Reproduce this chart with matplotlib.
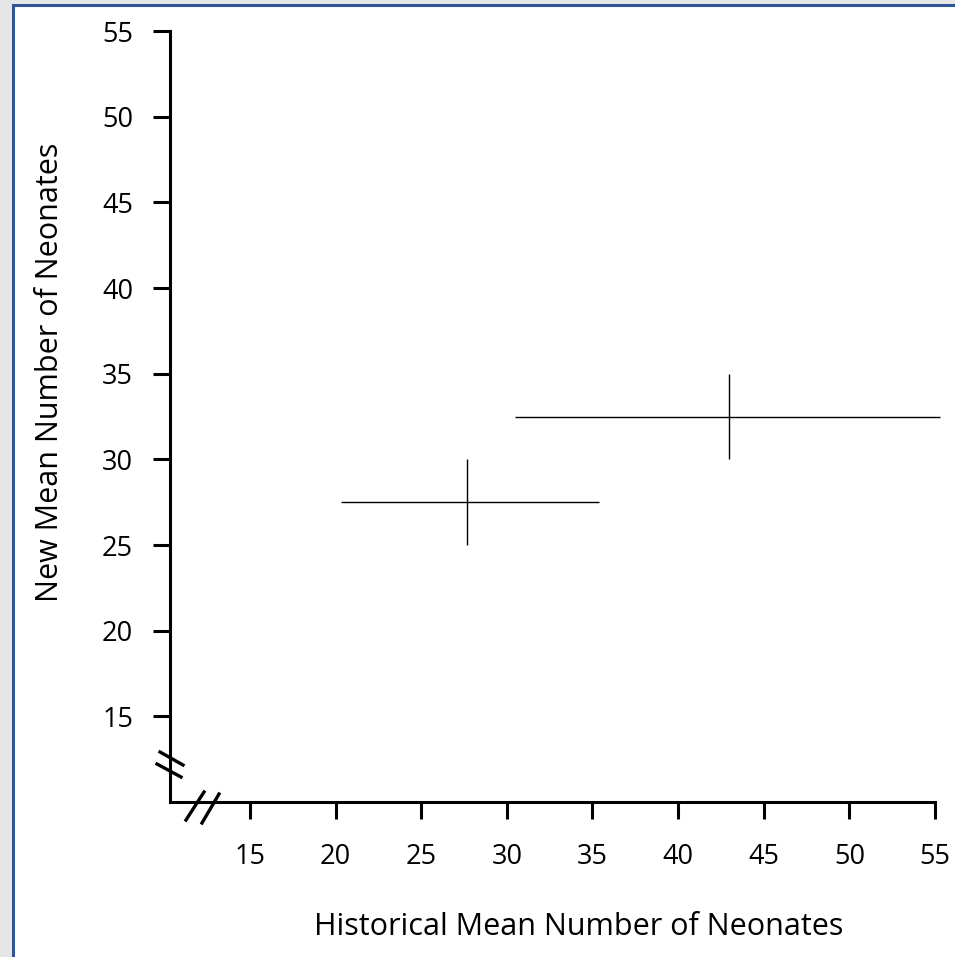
import matplotlib
matplotlib.use("Agg")
import matplotlib.pyplot as plt
from matplotlib.patches import Rectangle
from matplotlib.lines import Line2D

# data
hist_mean = [27.7, 43.0]
hist_lo = [20.3, 30.5]
hist_hi = [35.4, 55.3]
new_mean = [27.5, 32.5]
new_lo = [25.0, 30.0]
new_hi = [30.0, 35.0]

xticks = [15, 20, 25, 30, 35, 40, 45, 50, 55]
yticks = [15, 20, 25, 30, 35, 40, 45, 50, 55]

plt.rcParams['font.family'] = ['Open Sans', 'DejaVu Sans']

W, H = 955, 957
fig = plt.figure(figsize=(W / 100, H / 100), dpi=100)
fig.patch.set_facecolor('#e6e6e6')

# white panel with blue frame
fig.patches.append(Rectangle((13 / W, -0.1), 1.2, (H - 5) / H + 0.1,
                             transform=fig.transFigure, facecolor='white',
                             edgecolor='#2F5597', linewidth=2.2, zorder=-5))

ax = fig.add_axes([170 / W, 1 - 802 / H, (935 - 170) / W, (802 - 31) / H])
ax.set_facecolor('none')

xerr = [[m - lo for m, lo in zip(hist_mean, hist_lo)],
        [hi - m for m, hi in zip(hist_mean, hist_hi)]]
yerr = [[m - lo for m, lo in zip(new_mean, new_lo)],
        [hi - m for m, hi in zip(new_mean, new_hi)]]
eb = ax.errorbar(hist_mean, new_mean, xerr=xerr, yerr=yerr, fmt='none',
                 ecolor='black', elinewidth=1.0, capsize=0)
for c in eb.get_children():
    c.set_clip_on(False)

ax.set_xlim(10.33, 55)
ax.set_ylim(10, 55)
ax.set_xticks(xticks)
ax.set_yticks(yticks)

for s in ['top', 'right']:
    ax.spines[s].set_visible(False)
for s in ['left', 'bottom']:
    ax.spines[s].set_linewidth(2.2)

ax.tick_params(axis='both', direction='out', length=12.5, width=2.2,
               labelsize=19.5)
ax.tick_params(axis='y', pad=14)
ax.tick_params(axis='x', pad=17)

ax.set_xlabel('Historical Mean Number of Neonates', fontsize=22)
ax.set_ylabel('New Mean Number of Neonates', fontsize=22)
ax.xaxis.set_label_coords(0.5346, -0.143)
ax.yaxis.set_label_coords(-0.1375, 0.5577)

# axis break marks
def px(x, y):
    return x / W, 1 - y / H

for (x0, y0), (x1, y1) in [((160, 752), (183, 765)), ((157, 764), (181, 777)),
                           ((186, 820), (204, 792)), ((202, 823), (219, 794))]:
    a, b = px(x0, y0)
    c, d = px(x1, y1)
    fig.lines.append(Line2D([a, c], [b, d], transform=fig.transFigure,
                            color='black', linewidth=2.4))

fig.savefig('out.png', dpi=100, facecolor=fig.get_facecolor())
